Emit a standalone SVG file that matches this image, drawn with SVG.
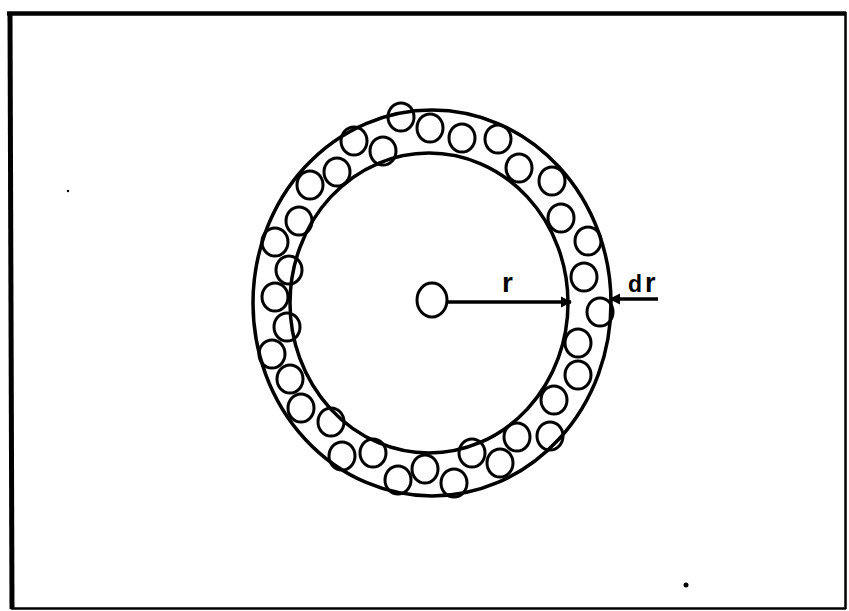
<svg xmlns="http://www.w3.org/2000/svg" width="849" height="611" viewBox="0 0 849 611">
<style>
.ring{fill:none;stroke:#000;stroke-width:3.5}
.p{fill:none;stroke:#000;stroke-width:3}
.lbl{font-family:"Liberation Sans",Arial,sans-serif;font-weight:bold;fill:#000}
.con{stroke:#000;stroke-width:3.5;fill:none}
</style>
<defs>
<marker id="ah" viewBox="0 0 10 10" refX="9" refY="5" markerWidth="3.2" markerHeight="3.2" orient="auto" markerUnits="strokeWidth">
<path d="M0,0 L10,5 L0,10 Z" fill="#000"/>
</marker>
</defs>
<rect width="849" height="611" fill="#fff"/>
<g id="frame">
<line x1="7" y1="13.5" x2="846" y2="13.5" stroke="#000" stroke-width="4.5"/>
<line x1="10" y1="12" x2="12" y2="609" stroke="#000" stroke-width="5"/>
<line x1="845.5" y1="12" x2="845.5" y2="609" stroke="#000" stroke-width="2.5"/>
<line x1="11" y1="608.5" x2="846" y2="608.5" stroke="#000" stroke-width="2.5"/>
</g>
<g id="outer-ring"><ellipse class="ring" cx="432" cy="303" rx="179" ry="193"/></g>
<g id="inner-ring"><ellipse class="ring" cx="429" cy="303" rx="139" ry="150"/></g>
<g id="center-particle"><ellipse class="p" cx="432" cy="300" rx="15" ry="17"/></g>
<g id="particles">
<ellipse class="p" cx="401" cy="117" rx="13" ry="14"/>
<ellipse class="p" cx="430" cy="128" rx="13" ry="14"/>
<ellipse class="p" cx="462" cy="138" rx="13" ry="14"/>
<ellipse class="p" cx="498" cy="139" rx="13" ry="14"/>
<ellipse class="p" cx="354" cy="141" rx="13" ry="14"/>
<ellipse class="p" cx="383" cy="151" rx="13" ry="14"/>
<ellipse class="p" cx="337" cy="172" rx="13" ry="14"/>
<ellipse class="p" cx="310" cy="185" rx="13" ry="14"/>
<ellipse class="p" cx="299" cy="221" rx="13" ry="14"/>
<ellipse class="p" cx="275" cy="242" rx="13" ry="14"/>
<ellipse class="p" cx="289" cy="270" rx="13" ry="14"/>
<ellipse class="p" cx="275" cy="297" rx="13" ry="14"/>
<ellipse class="p" cx="287" cy="327" rx="13" ry="14"/>
<ellipse class="p" cx="272" cy="354" rx="13" ry="14"/>
<ellipse class="p" cx="290" cy="379" rx="13" ry="14"/>
<ellipse class="p" cx="301" cy="408" rx="13" ry="14"/>
<ellipse class="p" cx="331" cy="422" rx="13" ry="14"/>
<ellipse class="p" cx="342" cy="456" rx="13" ry="14"/>
<ellipse class="p" cx="373" cy="453" rx="13" ry="14"/>
<ellipse class="p" cx="398" cy="480" rx="13" ry="14"/>
<ellipse class="p" cx="425" cy="469" rx="13" ry="14"/>
<ellipse class="p" cx="454" cy="483" rx="13" ry="14"/>
<ellipse class="p" cx="472" cy="453" rx="13" ry="14"/>
<ellipse class="p" cx="500" cy="463" rx="13" ry="14"/>
<ellipse class="p" cx="517" cy="437" rx="13" ry="14"/>
<ellipse class="p" cx="550" cy="436" rx="13" ry="14"/>
<ellipse class="p" cx="554" cy="400" rx="13" ry="14"/>
<ellipse class="p" cx="578" cy="375" rx="13" ry="14"/>
<ellipse class="p" cx="578" cy="343" rx="13" ry="14"/>
<ellipse class="p" cx="600" cy="312" rx="13" ry="14"/>
<ellipse class="p" cx="584" cy="277" rx="13" ry="14"/>
<ellipse class="p" cx="588" cy="241" rx="13" ry="14"/>
<ellipse class="p" cx="561" cy="218" rx="13" ry="14"/>
<ellipse class="p" cx="552" cy="181" rx="13" ry="14"/>
<ellipse class="p" cx="519" cy="168" rx="13" ry="14"/>
</g>
<g id="connectors">
<line class="con" x1="448" y1="302" x2="571" y2="302" marker-end="url(#ah)"/>
<line class="con" x1="658" y1="299" x2="610" y2="299" marker-end="url(#ah)"/>
</g>
<g id="labels">
<text class="lbl" x="502" y="292" font-size="28">r</text>
<text class="lbl" x="628" y="292" font-size="23" letter-spacing="3">d<tspan font-size="27">r</tspan></text>
</g>
<g id="specks">
<circle cx="68" cy="191" r="1.2" fill="#000"/>
<circle cx="686" cy="585" r="2.5" fill="#000"/>
</g>
</svg>
